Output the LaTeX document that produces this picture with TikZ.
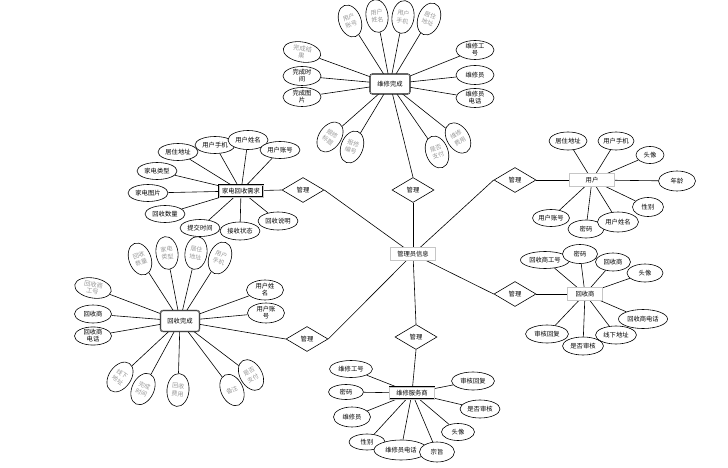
\documentclass[tikz,border=0pt]{standalone}
\usepackage{fontspec}
\setmainfont{Noto Sans CJK SC}
\usetikzlibrary{shapes.geometric}
\pgfdeclarelayer{bg}
\pgfsetlayers{bg,main}
\newcommand\erfs{\fontsize{6.3}{7}\selectfont}
\newcommand\ervfs{\fontsize{6}{7.8}\selectfont}
\begin{document}
\begin{tikzpicture}[x=1pt,y=-1pt,
  ent/.style={draw, fill=white, line width=0.4pt, double=gray!45, double distance=0.4pt,
    inner sep=1pt, minimum width=45, minimum height=13, font=\erfs},
  rent/.style={ent, rounded corners=2.5pt, minimum width=40, minimum height=20},
  attr/.style={ellipse, draw, fill=white, line width=0.6pt, inner sep=0pt,
    minimum width=40, minimum height=17, font=\erfs, align=center},
  gattr/.style={attr, text=gray!80},
  vattr/.style={gattr, minimum width=22, minimum height=33, font=\ervfs},
  rel/.style={diamond, draw, fill=white, line width=0.6pt, inner sep=0pt, aspect=1.7,
    minimum width=42, minimum height=25, font=\erfs},
  ln/.style={line width=0.6pt}]
\path[use as bounding box] (0,0) rectangle (728,468);

% central entity and relations
\node[ent] (C) at (413,254) {管理员信息};
\node[rel] (D1) at (413,190) {管理};
\node[rel] (D2) at (303,190) {管理};
\node[rel] (D3) at (307,339) {管理};
\node[rel] (D4) at (416,337) {管理};
\node[rel] (D5) at (515,180) {管理};
\node[rel] (D6) at (515,294) {管理};

% entities
\node[rent] (E1) at (390,84) {维修完成};
\node[ent, minimum width=44, minimum height=12] (E2) at (241,191) {家电回收需求};
\node[rent, minimum width=39, minimum height=21] (E3) at (180,321) {回收完成};
\node[ent, minimum height=12] (E4) at (412,393) {维修服务商};
\node[ent] (E5) at (592,180) {用户};
\node[ent, minimum width=35] (E6) at (585,294) {回收商};

% E1 attributes
\node[vattr, rotate=20] (a11) at (350,21) {用户\\账号};
\node[vattr, rotate=8] (a12) at (377,16) {用户\\姓名};
\node[vattr, rotate=-8] (a13) at (403,17) {用户\\手机};
\node[vattr, rotate=-20] (a14) at (429,19) {居住\\地址};
\node[gattr, minimum width=38, minimum height=20, rotate=-10] (a15) at (302,52) {完成结\\果};
\node[attr, minimum width=38, minimum height=19] (a16) at (302,76) {完成时\\间};
\node[attr, minimum width=38, minimum height=19] (a17) at (302,97) {完成图\\片};
\node[attr, minimum width=38, minimum height=19] (a18) at (475,50) {维修工\\号};
\node[attr, minimum width=38, minimum height=19] (a19) at (475,75) {维修员};
\node[attr, minimum width=38, minimum height=19] (a1a) at (475,98) {维修员\\电话};
\node[vattr, rotate=-35] (a1b) at (330,137) {报修\\标题};
\node[vattr, rotate=-20] (a1c) at (352,147) {报修\\编号};
\node[vattr, rotate=20] (a1d) at (437,152) {是否\\支付};
\node[vattr, rotate=32] (a1e) at (458,138) {维修\\费用};

% E2 attributes
\node[attr] (a21) at (178,152) {居住地址};
\node[attr] (a22) at (215,145) {用户手机};
\node[attr, minimum height=19] (a23) at (248,140) {用户姓名};
\node[attr] (a24) at (280,150) {用户账号};
\node[attr] (a25) at (157,171) {家电类型};
\node[attr] (a26) at (148,193) {家电图片};
\node[attr] (a27) at (165,214) {回收数量};
\node[attr] (a28) at (200,228) {提交时间};
\node[attr, minimum height=18] (a29) at (240,231) {接收状态};
\node[attr, minimum height=18] (a2a) at (278,221) {回收说明};

% E3 attributes
\node[vattr, rotate=20] (a31) at (140,259) {回收\\数量};
\node[vattr, rotate=8] (a32) at (167,253) {家电\\类型};
\node[vattr, rotate=-8] (a33) at (196,253) {居住\\地址};
\node[vattr, rotate=-20] (a34) at (220,258) {用户\\手机};
\node[gattr, minimum width=37, minimum height=20, rotate=-10] (a35) at (93,288) {回收商\\工号};
\node[attr, minimum width=37, minimum height=18] (a36) at (93,314) {回收商};
\node[attr, minimum width=37, minimum height=18] (a37) at (93,336) {回收商\\电话};
\node[attr, minimum width=37, minimum height=20] (a38) at (265,290) {用户姓\\名};
\node[attr, minimum width=37, minimum height=20] (a39) at (266,313) {用户账\\号};
\node[vattr, rotate=-35] (a3a) at (120,377) {线下\\地址};
\node[vattr, rotate=-25] (a3b) at (143,389) {完成\\时间};
\node[vattr, rotate=-5] (a3c) at (178,390) {回收\\费用};
\node[vattr, rotate=25] (a3d) at (232,390) {备注};
\node[vattr, rotate=30] (a3e) at (251,375) {是否\\支付};

% E4 attributes
\node[attr, minimum width=43] (a41) at (351,369) {维修工号};
\node[attr, minimum width=35, minimum height=15] (a42) at (346,392) {密码};
\node[attr, minimum width=37, minimum height=20] (a43) at (352,417) {维修员};
\node[attr, minimum width=36, minimum height=16] (a44) at (367,442) {性别};
\node[attr, minimum width=54, minimum height=20] (a45) at (401,450) {维修员电话};
\node[attr, minimum width=35, minimum height=20] (a46) at (437,452) {宗旨};
\node[attr, minimum width=33, minimum height=17] (a47) at (458,432) {头像};
\node[attr, minimum width=43, minimum height=18] (a48) at (473,381) {审核回复};
\node[attr, minimum width=40, minimum height=18] (a49) at (480,409) {是否审核};

% E5 attributes
\node[attr, minimum width=38, minimum height=18] (a51) at (568,141) {居住地址};
\node[attr, minimum width=36, minimum height=18] (a52) at (616,141) {用户手机};
\node[attr, minimum width=28, minimum height=17] (a53) at (650,155) {头像};
\node[attr, minimum width=37, minimum height=20] (a54) at (677,181) {年龄};
\node[attr, minimum width=31, minimum height=19] (a55) at (648,207) {性别};
\node[attr, minimum width=37, minimum height=17] (a58) at (551,218) {用户账号};
\node[attr, minimum width=36, minimum height=18] (a57) at (586,229) {密码};
\node[attr, minimum width=41, minimum height=20] (a56) at (618,222) {用户姓名};

% E6 attributes
\node[attr, minimum width=49, minimum height=17] (a61) at (545,260) {回收商工号};
\node[attr, minimum width=35, minimum height=19] (a62) at (580,254) {密码};
\node[attr, minimum width=35, minimum height=18] (a63) at (613,262) {回收商};
\node[attr, minimum width=36, minimum height=18] (a64) at (645,273) {头像};
\node[attr, minimum width=49, minimum height=19] (a65) at (643,319) {回收商电话};
\node[attr, minimum width=43, minimum height=18] (a68) at (547,334) {审核回复};
\node[attr, minimum width=41, minimum height=18] (a67) at (583,346) {是否审核};
\node[attr, minimum width=41, minimum height=18] (a66) at (616,335) {线下地址};

% connectors
\begin{pgfonlayer}{bg}
\foreach \a in {a11,a12,a13,a14,a15,a16,a17,a18,a19,a1a,a1b,a1c,a1d,a1e}
  \draw[ln] (E1.center) -- (\a);
\foreach \a in {a21,a22,a23,a24,a25,a26,a27,a28,a29,a2a}
  \draw[ln] (E2.center) -- (\a);
\foreach \a in {a31,a32,a33,a34,a35,a36,a37,a38,a39,a3a,a3b,a3c,a3d,a3e}
  \draw[ln] (E3.center) -- (\a);
\foreach \a in {a41,a42,a43,a44,a45,a46,a47,a48,a49}
  \draw[ln] (E4.center) -- (\a);
\foreach \a in {a51,a52,a53,a54,a55,a56,a57,a58}
  \draw[ln] (E5.center) -- (\a);
\foreach \a in {a61,a62,a63,a64,a65,a66,a67,a68}
  \draw[ln] (E6.center) -- (\a);
\draw[ln] (C.center) -- (D1.south);
\draw[ln] (D1.north) -- (E1.center);
\draw[ln] (C.center) -- (D2.east);
\draw[ln] (D2.west) -- (E2.center);
\draw[ln] (C.center) -- (D3.east);
\draw[ln] (D3.west) -- (E3.center);
\draw[ln] (C.center) -- (D4.north);
\draw[ln] (D4.south) -- (E4.center);
\draw[ln] (C.center) -- (D5.west);
\draw[ln] (D5.east) -- (E5.center);
\draw[ln] (C.center) -- (D6.west);
\draw[ln] (D6.east) -- (E6.center);
\end{pgfonlayer}
\end{tikzpicture}
\end{document}
